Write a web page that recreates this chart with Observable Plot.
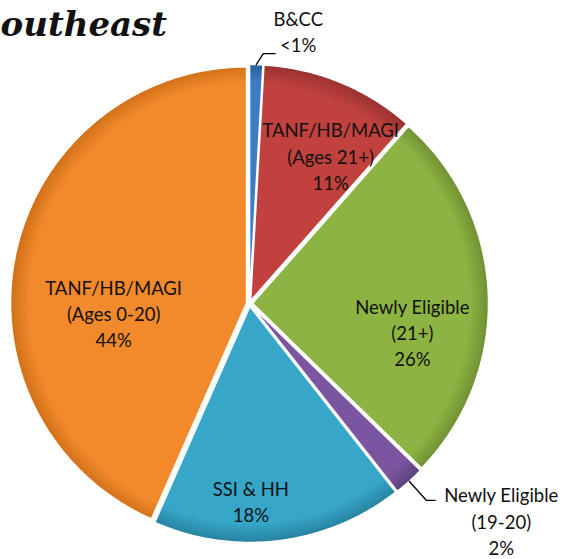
<!DOCTYPE html>
<html><head><meta charset="utf-8">
<script src="https://cdn.jsdelivr.net/npm/d3@7"></script>
<script src="https://cdn.jsdelivr.net/npm/@observablehq/plot@0.6"></script>
<style>
body{margin:0;background:#fff}
#wrap{position:relative;width:566px;height:559px;overflow:hidden}
#chart{position:absolute;left:0;top:0}
#title{position:absolute;left:-24px;top:7px;font:bold italic 34px "DejaVu Serif",serif;line-height:34px;color:#111;white-space:nowrap}
</style>
</head><body>
<div id="wrap"><div id="chart"></div><div id="title">Southeast</div></div>
<script>
// ---- data ----
const categories = ["B&CC", "TANF/HB/MAGI (Ages 21+)", "Newly Eligible (21+)", "Newly Eligible (19-20)", "SSI & HH", "TANF/HB/MAGI (Ages 0-20)"];
const values = [0.9, 10.6, 25.8, 2.1, 17.2, 43.4];
const labelLines = [["B&CC", "<1%"], ["TANF/HB/MAGI", "(Ages 21+)", "11%"], ["Newly Eligible", "(21+)", "26%"], ["Newly Eligible", "(19-20)", "2%"], ["SSI & HH", "18%"], ["TANF/HB/MAGI", "(Ages 0-20)", "44%"]];
const colors = ["#3a7cc6", "#c0413e", "#8db442", "#7a56a0", "#36a6c9", "#f28a2b"];
const edgeColors = ["#2a5f9e", "#983230", "#6f8f32", "#5d407c", "#27829f", "#d06f18"];

// ---- layout ----
const W = 566, H = 559, cx = 249, cy = 303, R = 236, explode = 3;
// inside label placement: [fraction along slice angle, fraction of radius]; null = outside label
const inside = [null, [0.667, 0.716], [0.628, 0.70], null, [0.61, 0.835], [0.40, 0.577]];
// outside leader elbows
const leaders = {0: {elbow: [7, -11], run: 12, text: [23, -23]}, 3: {elbow: [17, 19], run: 9, text: [66, 20]}};

const arcs = d3.pie().sort(null).startAngle(0).endAngle(2 * Math.PI)(values);
const pt = (a, r, ox = 0, oy = 0) => ({x: cx + ox + r * Math.sin(a), y: cy + oy - r * Math.cos(a)});

const slicePts = [];
arcs.forEach((a, i) => {
  const mid = (a.startAngle + a.endAngle) / 2;
  const ox = explode * Math.sin(mid), oy = -explode * Math.cos(mid);
  slicePts.push({i, ...pt(0, 0, ox, oy)});
  const n = Math.max(2, Math.ceil((a.endAngle - a.startAngle) / 0.01));
  for (let k = 0; k <= n; k++) {
    const t = a.startAngle + (a.endAngle - a.startAngle) * k / n;
    slicePts.push({i, ...pt(t, R, ox, oy)});
  }
  slicePts.push({i, ...pt(0, 0, ox, oy)});
});

const labels = [], leaderPts = [];
arcs.forEach((a, i) => {
  const text = labelLines[i].join("\n");
  if (inside[i]) {
    const [fa, fr] = inside[i];
    const t = a.startAngle + (a.endAngle - a.startAngle) * fa;
    labels.push({text, ...pt(t, R * fr)});
  } else {
    const L = leaders[i];
    const mid = (a.startAngle + a.endAngle) / 2;
    const s = pt(mid, R + explode);
    const e = {x: s.x + L.elbow[0], y: s.y + L.elbow[1]};
    const f = {x: e.x + L.run, y: e.y};
    leaderPts.push({i, ...s}, {i, ...e}, {i, ...f});
    labels.push({text, x: f.x + L.text[0], y: f.y + L.text[1]});
  }
});

const chart = Plot.plot({
  width: W, height: H, margin: 0,
  x: {domain: [0, W], range: [0, W], axis: null},
  y: {domain: [0, H], range: [0, H], axis: null},
  color: {type: "identity"},
  marks: [
    Plot.line(slicePts, {x: "x", y: "y", z: "i", fill: d => `url(#g${d.i})`, stroke: "white", strokeWidth: 1.5, curve: "linear"}),
    Plot.line(leaderPts, {x: "x", y: "y", z: "i", stroke: "#000", strokeWidth: 1.3, curve: "linear"}),
    Plot.text(labels, {x: "x", y: "y", text: "text", fontSize: 18.5, lineHeight: 1.42, fill: "#111", textAnchor: "middle", lineAnchor: "middle", fontFamily: "Lato"})
  ]
});

const svg = d3.select(chart);
const defs = svg.insert("defs", ":first-child");
colors.forEach((c, i) => {
  const g = defs.append("radialGradient").attr("id", `g${i}`).attr("gradientUnits", "userSpaceOnUse")
    .attr("cx", cx).attr("cy", cy).attr("r", R + explode);
  g.append("stop").attr("offset", "0").attr("stop-color", c);
  g.append("stop").attr("offset", "0.92").attr("stop-color", c);
  g.append("stop").attr("offset", "1").attr("stop-color", edgeColors[i]);
});
document.getElementById("chart").appendChild(chart);
</script>
</body></html>
